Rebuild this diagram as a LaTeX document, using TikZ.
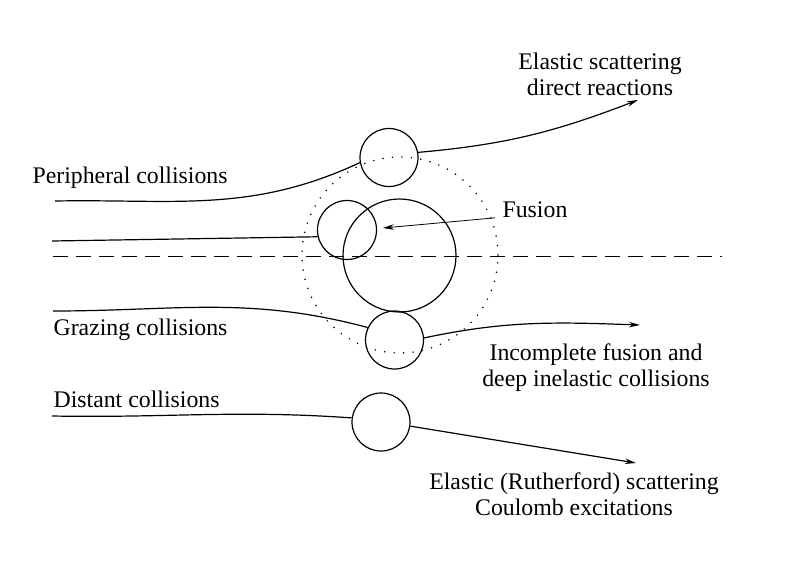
\documentclass[tikz,border=0pt]{standalone}
\usepackage{fontspec}
\setmainfont{Liberation Serif}
\usetikzlibrary{arrows.meta}
\begin{document}
\begin{tikzpicture}[x=1pt,y=1pt,line width=1.2pt,
	nucl/.style={draw,circle,inner sep=0pt},
	lbl/.style={font=\fontsize{23.8}{25.5}\selectfont,inner sep=0pt},
	tip/.style={-{Stealth[length=11pt,width=5.5pt]}},
	dots/.style={line width=1.7pt,line cap=round,dash pattern=on 0pt off 9.5pt},
	axis/.style={line width=1pt,dash pattern=on 15pt off 8pt}]
\useasboundingbox (0,-573) rectangle (805,0);
\node [nucl,dots,minimum size=196pt] (reach) at (400,-255) {};
\node [nucl,minimum size=113pt] (targ) at (399.5,-255.5) {};
\node [nucl,minimum size=59pt] (proj) at (347,-230) {};
\node [nucl,minimum size=58pt] (peri) at (389,-157.5) {};
\node [nucl,minimum size=58pt] (graz) at (394.5,-340) {};
\node [nucl,minimum size=58pt] (dist) at (381,-422) {};
\coordinate (axl) at (53,-256);
\coordinate (axr) at (722,-256);
\draw [axis] (axl) -- (axr);
\coordinate (p0) at (55,-201);
\coordinate (p1) at (638,-100);
\draw (p0) to[out=1,in=205] (peri.190);
\draw [tip] (peri.10) to[out=5,in=201] (p1);
\coordinate (f0) at (52,-241);
\draw (f0) -- (proj.193);
\coordinate (g0) at (53,-311);
\coordinate (g1) at (640,-325);
\draw (g0) to[out=0,in=165] (graz.155);
\draw [tip] (graz.4) to[out=12,in=178] (g1);
\coordinate (d0) at (52,-416);
\coordinate (d1) at (636,-463);
\draw (d0) to[out=-1,in=176] (dist.172);
\draw [tip] (dist.-8) -- (d1);
\node [lbl,anchor=base west] (fuslbl) at (502,-217) {Fusion};
\coordinate (f1) at (383,-228);
\draw [tip,line width=0.8pt] ([xshift=-7pt]fuslbl.south west) -- (f1);
\node [lbl,anchor=base west] (perilbl) at (32,-183) {Peripheral collisions};
\node [lbl,anchor=base west] (grazlbl) at (53,-335) {Grazing collisions};
\node [lbl,anchor=base west] (distlbl) at (53,-407) {Distant collisions};
\node [lbl,align=center,anchor=base] (elaslbl) at (600,-95) {Elastic scattering\\direct reactions};
\node [lbl,align=center,anchor=base] (inclbl) at (596,-386) {Incomplete fusion and\\deep inelastic collisions};
\node [lbl,align=center,anchor=base] (ruthlbl) at (574,-515) {Elastic (Rutherford) scattering\\Coulomb excitations};
\end{tikzpicture}
\end{document}
